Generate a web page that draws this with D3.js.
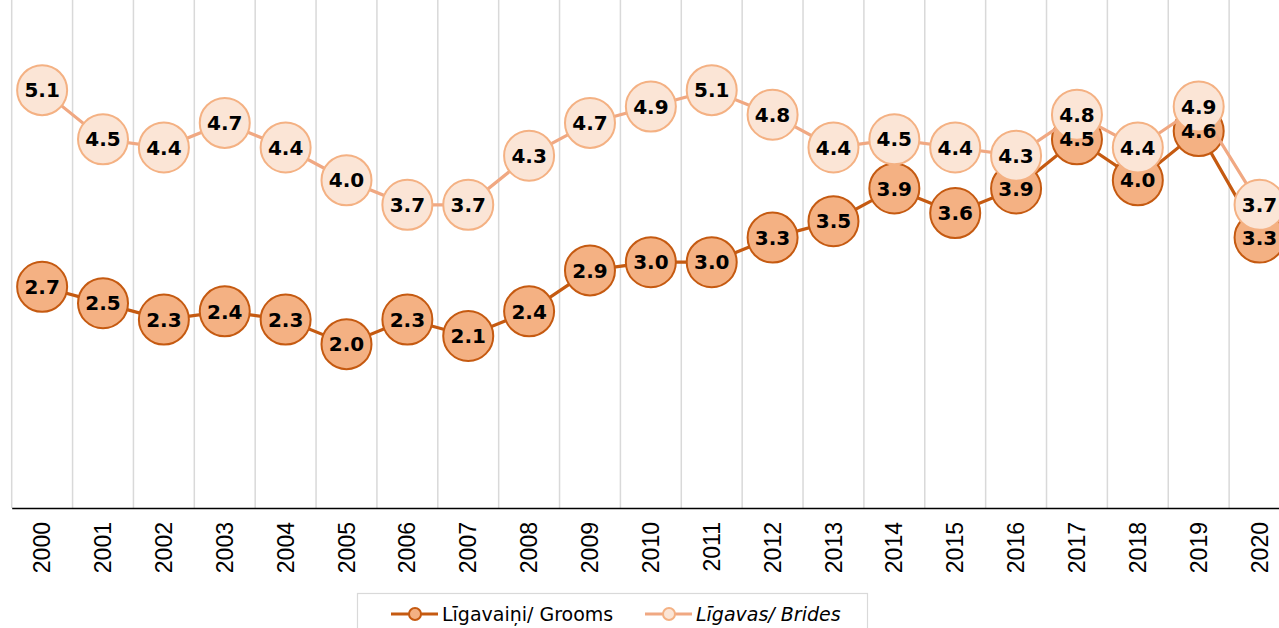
<!DOCTYPE html>
<html>
<head>
<meta charset="utf-8">
<script src="https://cdn.jsdelivr.net/npm/d3@7"></script>
<style>
  body { margin: 0; background: #fff; overflow: hidden; }
</style>
</head>
<body>
<div id="app"></div>
<script>
let years = ['2000', '2001', '2002', '2003', '2004', '2005', '2006', '2007', '2008', '2009', '2010',
             '2011', '2012', '2013', '2014', '2015', '2016', '2017', '2018', '2019', '2020'];
let grooms = [2.7, 2.5, 2.3, 2.4, 2.3, 2.0, 2.3, 2.1, 2.4, 2.9, 3.0, 3.0, 3.3, 3.5, 3.9, 3.6, 3.9, 4.5, 4.0, 4.6, 3.3];
let brides = [5.1, 4.5, 4.4, 4.7, 4.4, 4.0, 3.7, 3.7, 4.3, 4.7, 4.9, 5.1, 4.8, 4.4, 4.5, 4.4, 4.3, 4.8, 4.4, 4.9, 3.7];
let seriesNames = ['Līgavaiņi/ Grooms', 'Līgavas/ Brides'];

let width = 1279;
let height = 628;

let plot = { left: 11.7, right: 1290, top: 0, bottom: 508 };

let series = [
  { name: seriesNames[0], values: grooms, line: '#C55A11', fill: '#F4B183', stroke: '#C55A11', italic: false },
  { name: seriesNames[1], values: brides, line: '#F0A882', fill: '#FBE5D6', stroke: '#F4B183', italic: true }
];

let xScale = d3.scaleBand()
               .domain(years)
               .range([plot.left, plot.right])

let yScale = d3.scaleLinear()
               .domain([0, 6.2])
               .range([plot.bottom, plot.top])

let svg = d3.select('#app').append('svg')
    .attr('width', width)
    .attr('height', height)

// vertical guides between the categories
svg.append('g')
  .selectAll('line')
  .data(years)
  .enter()
  .append('line')
    .attr('x1', d => xScale(d))
    .attr('x2', d => xScale(d))
    .attr('y1', plot.top)
    .attr('y2', plot.bottom)
    .style('stroke', '#d9d9d9')
    .style('stroke-width', 1.5)

// H Axis
let hAxis = d3.axisBottom()
              .scale(xScale)
              .tickSize(0)
              .tickSizeOuter(0)

let hGuide = svg.append('g')
                .attr('transform', `translate(0, ${plot.bottom})`)
                .call(hAxis)

hGuide.select('.domain')
      .style('stroke', '#000')
      .style('stroke-width', 1.6)

hGuide.selectAll('text')
      .attr('transform', 'rotate(-90)')
      .attr('x', -14)
      .attr('y', 0)
      .attr('dy', '0.35em')
      .style('text-anchor', 'end')
      .style('font-family', 'Liberation Sans, Arial, sans-serif')
      .style('font-size', '23px')
      .style('fill', '#000')

let cx = (d, i) => xScale(years[i]) + xScale.bandwidth() / 2;

let line = d3.line()
             .x((d, i) => cx(d, i))
             .y(d => yScale(d))

series.forEach(s => {
  let g = svg.append('g')
  g.append('path')
    .datum(s.values)
    .attr('d', line)
    .style('fill', 'none')
    .style('stroke', s.line)
    .style('stroke-width', 3.2)

  g.selectAll('circle')
    .data(s.values)
    .enter()
    .append('circle')
      .attr('cx', cx)
      .attr('cy', d => yScale(d))
      .attr('r', 25)
      .style('fill', s.fill)
      .style('stroke', s.stroke)
      .style('stroke-width', 2)
})

// data labels on top of everything
series.forEach(s => {
  svg.append('g')
    .selectAll('text')
    .data(s.values)
    .enter()
    .append('text')
      .attr('x', cx)
      .attr('y', d => yScale(d))
      .attr('dy', '0.36em')
      .style('text-anchor', 'middle')
      .style('font-family', 'DejaVu Sans, Verdana, sans-serif')
      .style('font-weight', 'bold')
      .style('font-size', '20px')
      .style('fill', '#000')
      .text(d => d.toFixed(1))
})

// legend
let legend = svg.append('g')

legend.append('rect')
  .attr('x', 357.5)
  .attr('y', 593.5)
  .attr('width', 510)
  .attr('height', 60)
  .style('fill', '#fff')
  .style('stroke', '#d9d9d9')
  .style('stroke-width', 1.2)

let legendX = [391, 645];
let legendY = 614;

series.forEach((s, i) => {
  let lx = legendX[i];
  legend.append('line')
    .attr('x1', lx)
    .attr('x2', lx + 47)
    .attr('y1', legendY)
    .attr('y2', legendY)
    .style('stroke', s.line)
    .style('stroke-width', 3.2)
  legend.append('circle')
    .attr('cx', lx + 24)
    .attr('cy', legendY)
    .attr('r', 6)
    .style('fill', s.fill)
    .style('stroke', s.stroke)
    .style('stroke-width', 2)
  legend.append('text')
    .attr('x', lx + 51)
    .attr('y', legendY)
    .attr('dy', '0.36em')
    .style('font-family', 'DejaVu Sans, Verdana, sans-serif')
    .style('font-size', '19px')
    .style('font-style', s.italic ? 'italic' : 'normal')
    .style('fill', '#000')
    .text(s.name)
})
</script>
</body>
</html>
